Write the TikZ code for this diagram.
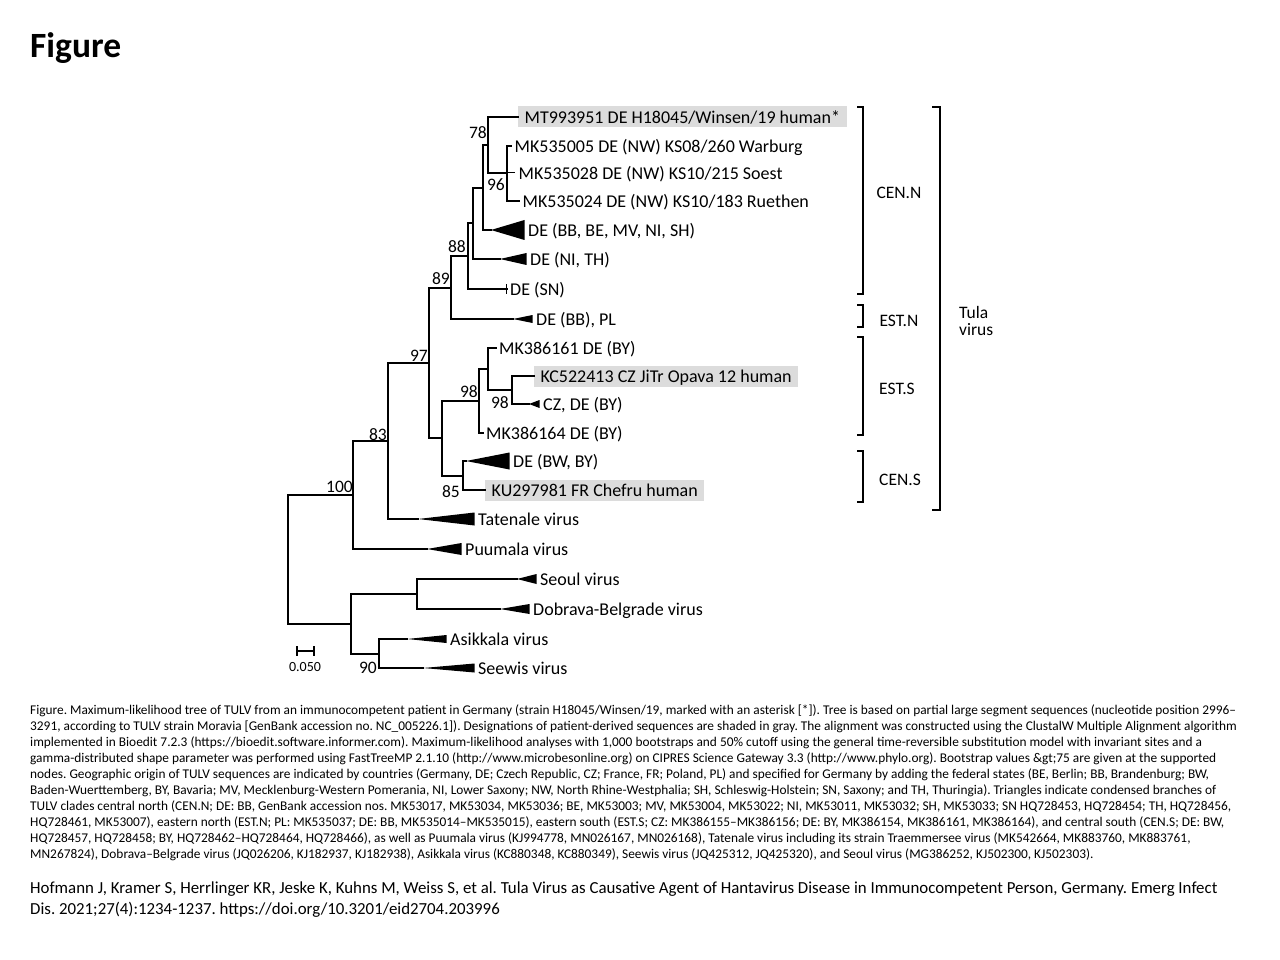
\documentclass[tikz,border=0pt]{standalone}
\usepackage{fontspec}
\setmainfont{Carlito}
\definecolor{boxgray}{HTML}{DCDCDC}
\frenchspacing
\begin{document}
\begin{tikzpicture}[x=1pt,y=-1pt,
  br/.style={line width=2pt, line cap=rect, line join=miter},
  thinbr/.style={line width=1pt},
  brk/.style={line width=2pt, line join=miter},
  leaf/.style={anchor=west, inner xsep=3.5pt, inner ysep=2.5pt, text height=14.5pt, text depth=1.5pt, font=\fontsize{18}{18}\selectfont},
  shaded/.style={leaf, fill=boxgray, inner xsep=6.5pt},
  bs/.style={anchor=east, inner sep=0pt, font=\fontsize{17.5}{17.5}\selectfont},
  clade/.style={inner sep=0pt, font=\fontsize{17.5}{17.5}\selectfont},
  captionline/.style={anchor=base west, inner sep=0pt, font=\fontsize{13.35}{16}\selectfont},
  citeline/.style={anchor=base west, inner sep=0pt, font=\fontsize{16.85}{21}\selectfont},
  tri/.style={fill=black}]
\fill[white] (0,0) rectangle (1280,960);
\useasboundingbox (0,0) rectangle (1280,960);

% title
\node[anchor=base west, inner sep=0pt, font=\fontsize{35.5}{35.5}\selectfont\bfseries] (title) at (30,58) {Figure};

% leaf labels
\node[shaded] (lMT)  at (518,117) {MT993951 DE H18045/Winsen/19 human*};
\node[leaf] (l005) at (511,146) {MK535005 DE (NW) KS08/260 Warburg};
\node[leaf] (l028) at (515,173) {MK535028 DE (NW) KS10/215 Soest};
\node[leaf] (l024) at (519,201) {MK535024 DE (NW) KS10/183 Ruethen};
\node[leaf] (lBB)  at (524.5,230) {DE (BB, BE, MV, NI, SH)};
\node[leaf] (lNI)  at (526.5,259) {DE (NI, TH)};
\node[leaf] (lSN)  at (506.5,289) {DE (SN)};
\node[leaf] (lPL)  at (532.5,319) {DE (BB), PL};
\node[leaf] (l161) at (495.5,348) {MK386161 DE (BY)};
\node[shaded] (lKC) at (534,376) {KC522413 CZ JiTr Opava 12 human};
\node[leaf] (lCZ)  at (539.5,404) {CZ, DE (BY)};
\node[leaf] (l164) at (482.5,433) {MK386164 DE (BY)};
\node[leaf] (lBW)  at (509.5,461) {DE (BW, BY)};
\node[shaded] (lKU) at (485,490) {KU297981 FR Chefru human};
\node[leaf] (lTat) at (474.5,519) {Tatenale virus};
\node[leaf] (lPuu) at (461.5,549) {Puumala virus};
\node[leaf] (lSeo) at (536.5,579) {Seoul virus};
\node[leaf] (lDob) at (529.5,609) {Dobrava-Belgrade virus};
\node[leaf] (lAsi) at (446.5,639) {Asikkala virus};
\node[leaf] (lSee) at (474.5,668) {Seewis virus};

% triangle apexes
\coordinate (tBB)  at (491,230);
\coordinate (tNI)  at (500,259);
\coordinate (tPL)  at (513,319);
\coordinate (tCZ)  at (529,404);
\coordinate (tBW)  at (466,461);
\coordinate (tTat) at (418,519);
\coordinate (tPuu) at (427,549);
\coordinate (tSeo) at (517,579);
\coordinate (tDob) at (500,609);
\coordinate (tAsi) at (407,639);
\coordinate (tSee) at (423,668);

% internal nodes
\coordinate (B) at (507,173);
\coordinate (A) at (488,145);
\coordinate (C) at (483,188);
\coordinate (D) at (473,223);
\coordinate (E) at (468,256);
\coordinate (F) at (451,288);
\coordinate (P) at (512,390);
\coordinate (Q) at (488,369);
\coordinate (I) at (479,401);
\coordinate (R) at (463,476);
\coordinate (H) at (442,438);
\coordinate (G) at (429,363);
\coordinate (J) at (388,441);
\coordinate (K) at (353,495);
\coordinate (N) at (417,594);
\coordinate (O) at (379,654);
\coordinate (M) at (351,624);
\coordinate (L) at (288,559);

% branches
\draw[br] (A) |- (lMT.west);
\draw[br] (A) |- (B);
\draw[br] (B) |- (l005.west);
\draw[br] (B) |- (l024.west);
\draw[thinbr] (B) |- (l028.west);
\draw[br] (C) |- (A);
\draw[br] (C) |- (tBB);
\draw[br] (D) |- (C);
\draw[br] (D) |- (tNI);
\draw[br] (E) |- (D);
\draw[br] (E) |- (lSN.west);
\draw[line width=1.5pt] ([yshift=5pt]lSN.west) -- ([yshift=-5pt]lSN.west);
\draw[br] (F) |- (E);
\draw[br] (F) |- (tPL);
\draw[br] (G) |- (F);
\draw[br] (G) |- (H);
\draw[br] (H) |- (I);
\draw[br] (H) |- (R);
\draw[br] (I) |- (Q);
\draw[br] (I) |- (l164.west);
\draw[br] (Q) |- (l161.west);
\draw[br] (Q) |- (P);
\draw[br] (P) |- (lKC.west);
\draw[br] (P) |- (tCZ);
\draw[br] (R) |- (tBW);
\draw[br] (R) |- (lKU.west);
\draw[br] (J) |- (G);
\draw[br] (J) |- (tTat);
\draw[br] (K) |- (J);
\draw[br] (K) |- (tPuu);
\draw[br] (L) |- (K);
\draw[br] (L) |- (M);
\draw[br] (M) |- (N);
\draw[br] (M) |- (O);
\draw[br] (N) |- (tSeo);
\draw[br] (N) |- (tDob);
\draw[br] (O) |- (tAsi);
\draw[br] (O) |- (tSee);

% collapsed clades
\fill[tri] (tBB)  -- ([yshift=10pt]lBB.west)  -- ([yshift=-10pt]lBB.west)  -- cycle;
\fill[tri] (tNI)  -- ([yshift=6pt]lNI.west)   -- ([yshift=-6pt]lNI.west)   -- cycle;
\fill[tri] (tPL)  -- ([yshift=4pt]lPL.west)   -- ([yshift=-4pt]lPL.west)   -- cycle;
\fill[tri] (tCZ)  -- ([yshift=4pt]lCZ.west)   -- ([yshift=-4pt]lCZ.west)   -- cycle;
\fill[tri] (tBW)  -- ([yshift=8.5pt]lBW.west) -- ([yshift=-8.5pt]lBW.west) -- cycle;
\fill[tri] (tTat) -- ([yshift=6.5pt]lTat.west) -- ([yshift=-6.5pt]lTat.west) -- cycle;
\fill[tri] (tPuu) -- ([yshift=6pt]lPuu.west)  -- ([yshift=-6pt]lPuu.west)  -- cycle;
\fill[tri] (tSeo) -- ([yshift=5pt]lSeo.west)  -- ([yshift=-5pt]lSeo.west)  -- cycle;
\fill[tri] (tDob) -- ([yshift=5pt]lDob.west)  -- ([yshift=-5pt]lDob.west)  -- cycle;
\fill[tri] (tAsi) -- ([yshift=4pt]lAsi.west)  -- ([yshift=-4pt]lAsi.west)  -- cycle;
\fill[tri] (tSee) -- ([yshift=4.5pt]lSee.west) -- ([yshift=-4.5pt]lSee.west) -- cycle;

% bootstrap values
\node[bs] (b78)  at (487,133) {78};
\node[bs] (b96)  at (505,185) {96};
\node[bs] (b88)  at (466,247) {88};
\node[bs] (b89)  at (450,279) {89};
\node[bs] (b97)  at (428,356) {97};
\node[bs] (b98a) at (478,392) {98};
\node[bs] (b98b) at (509,403) {98};
\node[bs] (b83)  at (387,435) {83};
\node[bs] (b85)  at (460,492) {85};
\node[bs] (b100) at (353,487) {100};
\node[bs] (b90)  at (377,668) {90};

% scale bar
\draw[line width=1.5pt] (297,651) -- (314,651);
\draw[line width=1.5pt] (297,646) -- (297,656);
\draw[line width=1.5pt] (314,646) -- (314,656);
\node[inner sep=0pt, font=\fontsize{14}{14}\selectfont] (scale) at (305,667) {0.050};

% clade brackets
\draw[brk] (857,107) -- (863,107) -- (863,294) -- (857,294);
\draw[brk] (857,305) -- (863,305) -- (863,327) -- (857,327);
\draw[brk] (857,337) -- (863,337) -- (863,435) -- (857,435);
\draw[brk] (857,451) -- (863,451) -- (863,502) -- (857,502);
\draw[brk] (932,107) -- (940,107) -- (940,510) -- (932,510);
\node[clade] (cenN) at (899,193) {CEN.N};
\node[clade] (estN) at (899,321) {EST.N};
\node[clade] (estS) at (897,389) {EST.S};
\node[clade] (cenS) at (900,480) {CEN.S};
\node[clade, anchor=west, align=left, font=\fontsize{17.5}{17}\selectfont] (tula) at (959,321) {Tula\\virus};

% caption
\node[captionline] (c1) at (30,714.5) {Figure. Maximum-likelihood tree of TULV from an immunocompetent patient in Germany (strain H18045/Winsen/19, marked with an asterisk [*]). Tree is based on partial large segment sequences (nucleotide position 2996–};
\node[captionline] (c2) at (30,730.5) {3291, according to TULV strain Moravia [GenBank accession no. NC\_005226.1]). Designations of patient-derived sequences are shaded in gray. The alignment was constructed using the ClustalW Multiple Alignment algorithm};
\node[captionline] (c3) at (30,746.5) {implemented in Bioedit 7.2.3 (https://bioedit.software.informer.com). Maximum-likelihood analyses with 1,000 bootstraps and 50\% cutoff using the general time-reversible substitution model with invariant sites and a};
\node[captionline] (c4) at (30,762.5) {gamma-distributed shape parameter was performed using FastTreeMP 2.1.10 (http://www.microbesonline.org) on CIPRES Science Gateway 3.3 (http://www.phylo.org). Bootstrap values \&gt;75 are given at the supported};
\node[captionline] (c5) at (30,778.5) {nodes. Geographic origin of TULV sequences are indicated by countries (Germany, DE; Czech Republic, CZ; France, FR; Poland, PL) and specified for Germany by adding the federal states (BE, Berlin; BB, Brandenburg; BW,};
\node[captionline] (c6) at (30,794.5) {Baden-Wuerttemberg, BY, Bavaria; MV, Mecklenburg-Western Pomerania, NI, Lower Saxony; NW, North Rhine-Westphalia; SH, Schleswig-Holstein; SN, Saxony; and TH, Thuringia). Triangles indicate condensed branches of};
\node[captionline] (c7) at (30,810.5) {TULV clades central north (CEN.N; DE: BB, GenBank accession nos. MK53017, MK53034, MK53036; BE, MK53003; MV, MK53004, MK53022; NI, MK53011, MK53032; SH, MK53033; SN HQ728453, HQ728454; TH, HQ728456,};
\node[captionline] (c8) at (30,826.5) {HQ728461, MK53007), eastern north (EST.N; PL: MK535037; DE: BB, MK535014–MK535015), eastern south (EST.S; CZ: MK386155–MK386156; DE: BY, MK386154, MK386161, MK386164), and central south (CEN.S; DE: BW,};
\node[captionline] (c9) at (30,842.5) {HQ728457, HQ728458; BY, HQ728462–HQ728464, HQ728466), as well as Puumala virus (KJ994778, MN026167, MN026168), Tatenale virus including its strain Traemmersee virus (MK542664, MK883760, MK883761,};
\node[captionline] (c10) at (30,858.5) {MN267824), Dobrava–Belgrade virus (JQ026206, KJ182937, KJ182938), Asikkala virus (KC880348, KC880349), Seewis virus (JQ425312, JQ425320), and Seoul virus (MG386252, KJ502300, KJ502303).};

% citation
\node[citeline] (r1) at (30,893) {Hofmann J, Kramer S, Herrlinger KR, Jeske K, Kuhns M, Weiss S, et al. Tula Virus as Causative Agent of Hantavirus Disease in Immunocompetent Person, Germany. Emerg Infect};
\node[citeline] (r2) at (30,914) {Dis. 2021;27(4):1234-1237. https://doi.org/10.3201/eid2704.203996};
\end{tikzpicture}
\end{document}
